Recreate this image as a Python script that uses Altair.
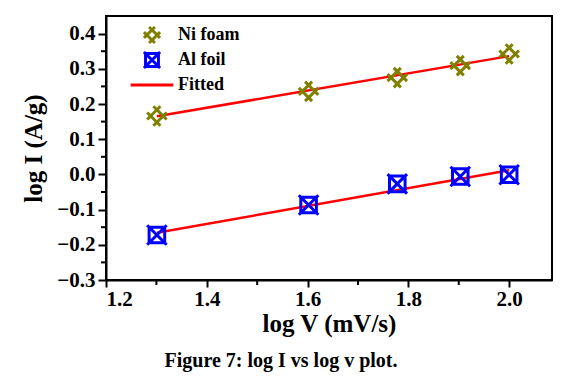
import altair as alt
import pandas as pd

log_v = [1.301, 1.602, 1.778, 1.903, 2.0]
ni_foam = [0.166, 0.236, 0.275, 0.309, 0.342]
al_foil = [-0.172, -0.087, -0.027, -0.006, -0.001]
fit_x = [1.301, 2.0]
ni_fit = [0.165, 0.336]
al_fit = [-0.166, 0.012]
series = ["Ni foam", "Al foil", "Fitted"]
y_ticks = [-0.3, -0.2, -0.1, 0.0, 0.1, 0.2, 0.3, 0.4]
y_minor = [-0.25, -0.15, -0.05, 0.05, 0.15, 0.25, 0.35]
x_ticks = [1.2, 1.4, 1.6, 1.8, 2.0]
x_minor = [1.3, 1.5, 1.7, 1.9]

pts = pd.DataFrame({
    "x": log_v * 2,
    "y": ni_foam + al_foil,
    "s": ["Ni foam"] * 5 + ["Al foil"] * 5,
})
fit = pd.DataFrame({
    "x": fit_x * 2,
    "y": ni_fit + al_fit,
    "g": ["Ni"] * 2 + ["Al"] * 2,
    "s": ["Fitted"] * 4,
})
ymin = pd.DataFrame({"y": y_minor})
xmin = pd.DataFrame({"x": x_minor})

W, H = 446, 264
FONT = "Liberation Serif"
xs = alt.Scale(domain=[1.2, 2.085], nice=False, zero=False)
ys = alt.Scale(domain=[-0.3, 0.45], nice=False, zero=False)

x_axis = alt.Axis(values=x_ticks, format=".1f", title="log V (mV/s)", tickSize=7,
                  labelPadding=1, titlePadding=2, labelOverlap=False)
y_axis = alt.Axis(values=y_ticks, format=".1f", title="log I (A/g)", tickSize=8,
                  labelPadding=3, titlePadding=10, labelOverlap=False)
X = lambda: alt.X("x:Q", scale=xs, axis=x_axis)
Y = lambda: alt.Y("y:Q", scale=ys, axis=y_axis)

ni_path = "M-1,-0.36L0.36,1M-0.36,-1L1,0.36M-1,0.36L0.36,-1M-0.36,1L1,-0.36"
al_path = "M-1,-1L1,1M-1,1L1,-1M-0.8,-0.8L0.8,-0.8M-0.8,0.8L0.8,0.8M-0.8,-0.8L-0.8,0.8M0.8,-0.8L0.8,0.8"
line_path = "M-2.65,0L2.65,0"

color = alt.Color("s:N", scale=alt.Scale(domain=series, range=["#808000", "#0000ff", "#ff0000"]),
                  title=None,
                  legend=alt.Legend(orient="none", legendX=36, legendY=9,
                                    symbolSize=260, symbolStrokeWidth=3, rowPadding=-16,
                                    gridAlign="all", labelOffset=16, symbolOffset=0))
shape = alt.Shape("s:N", scale=alt.Scale(domain=series, range=[ni_path, al_path, line_path]), title=None)

fit_layer = alt.Chart(fit).mark_line(color="#ff0000", strokeWidth=2.5).encode(
    x=X(), y=Y(), detail="g:N",
)
pt_layer = alt.Chart(pts).mark_point(filled=False, size=380, strokeWidth=3, opacity=1).encode(
    x=X(), y=Y(), color=color, shape=shape,
)
ymin_layer = alt.Chart(ymin).mark_rule(color="black", strokeWidth=2).encode(
    y=Y(), x=alt.value(-5), x2=alt.value(0))
xmin_layer = alt.Chart(xmin).mark_rule(color="black", strokeWidth=2).encode(
    x=X(), y=alt.value(H), y2=alt.value(H + 5))

chart = alt.layer(fit_layer, pt_layer, ymin_layer, xmin_layer).properties(
    width=W, height=H,
    background="white",
    autosize=alt.AutoSizeParams(type="none"),
    padding={"left": 98, "top": 8, "right": 2, "bottom": 95},
    title=alt.TitleParams("Figure 7: log I vs log v plot.", orient="bottom", anchor="middle",
                          font=FONT, fontSize=20, fontWeight="bold", color="black", offset=15,
                          dx=-48),
).configure(font=FONT).configure_view(stroke="black", strokeWidth=2).configure_axis(
    labelFont=FONT, labelFontSize=21, labelFontWeight="bold", labelColor="black",
    titleFont=FONT, titleFontSize=25, titleFontWeight="bold", titleColor="black",
    domainColor="black", domainWidth=2, tickColor="black", tickWidth=2, grid=False,
).configure_legend(
    labelFont=FONT, labelFontSize=18, labelFontWeight="bold", labelColor="black",
)

chart.save("out.html", embed_options={"renderer": "svg", "actions": False})
